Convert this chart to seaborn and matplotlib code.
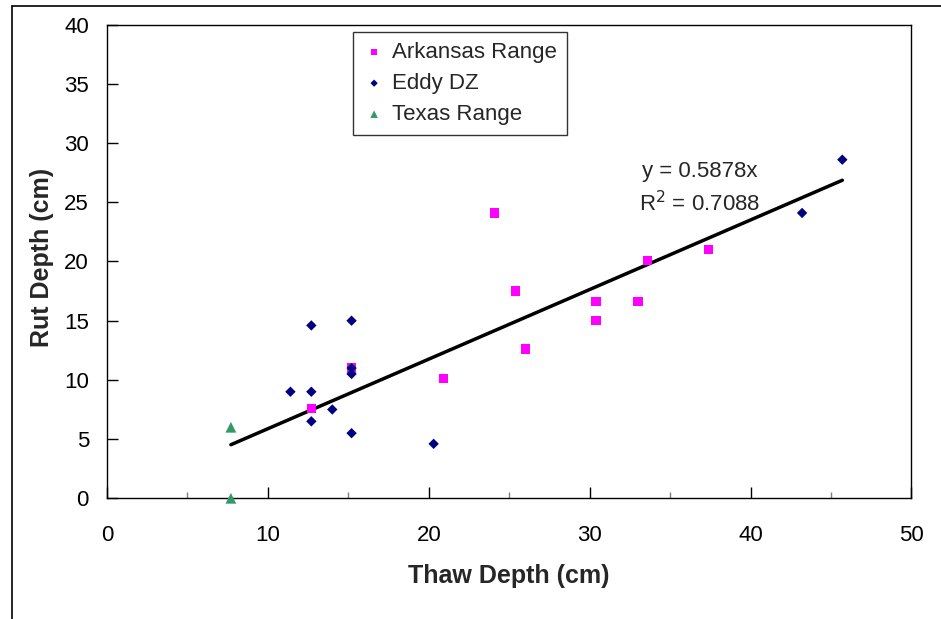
import matplotlib
matplotlib.use("Agg")
import matplotlib.pyplot as plt
from matplotlib.lines import Line2D
from matplotlib.ticker import MultipleLocator
import seaborn as sns
import pandas as pd
import numpy as np

# ---- data ----
ark_x = [12.7, 15.2, 20.9, 24.1, 25.4, 26.0, 30.4, 30.4, 33.0, 33.6, 37.4]
ark_y = [7.6, 11.0, 10.1, 24.1, 17.5, 12.6, 16.6, 15.0, 16.6, 20.1, 21.0]
eddy_x = [11.4, 12.7, 12.7, 12.7, 14.0, 15.2, 15.2, 15.2, 15.2, 20.3, 43.2, 45.7]
eddy_y = [9.0, 14.6, 9.0, 6.5, 7.5, 15.0, 11.0, 10.5, 5.5, 4.6, 24.1, 28.6]
tex_x = [7.7, 7.7]
tex_y = [6.0, 0.0]
slope = 0.5878
r2 = 0.7088

sns.set_theme(style="white")
plt.rcParams['font.family'] = ['Liberation Sans', 'DejaVu Sans']

W, H = 941, 619
fig = plt.figure(figsize=(W / 100, H / 100), dpi=100)
ax = fig.add_axes([107/W, 1-498.3/H, (911.5-107)/W, (498.3-24.7)/H])

df_a = pd.DataFrame({"x": ark_x, "y": ark_y})
df_e = pd.DataFrame({"x": eddy_x, "y": eddy_y})
df_t = pd.DataFrame({"x": tex_x, "y": tex_y})

sns.scatterplot(data=df_a, x="x", y="y", marker="s", color="#FF00FF", s=45,
                edgecolor="none", label="Arkansas Range", ax=ax, zorder=3)
sns.scatterplot(data=df_e, x="x", y="y", marker="D", color="#000080", s=28,
                edgecolor="none", label="Eddy DZ", ax=ax, zorder=3)
sns.scatterplot(data=df_t, x="x", y="y", marker="^", color="#339966", s=60,
                edgecolor="none", label="Texas Range", ax=ax, zorder=3, clip_on=False)

# trendline through origin
all_x = np.array(ark_x + eddy_x + tex_x)
lx = np.array([all_x.min(), all_x.max()])
sns.lineplot(x=lx, y=slope * lx, color="black", linewidth=2.5, ax=ax, zorder=2, legend=False)

fig.text(700/W, 1-172/H, "y = %.4fx" % slope, fontsize=16, ha="center", va="center")
fig.text(700/W, 1-204/H, "R$^2$ = %.4f" % r2, fontsize=16, ha="center", va="center")

ax.set_xlim(0, 50)
ax.set_ylim(0, 40)
ax.xaxis.set_major_locator(MultipleLocator(10))
ax.xaxis.set_minor_locator(MultipleLocator(5))
ax.yaxis.set_major_locator(MultipleLocator(5))
ax.tick_params(axis="both", which="major", direction="in", length=8, width=1,
               color="black", labelsize=16, labelcolor="black")
ax.tick_params(axis="x", which="major", pad=19)
ax.tick_params(axis="y", which="major", pad=13)
ax.tick_params(axis="x", which="minor", direction="in", length=4, width=1, color="#808080", bottom=True)
ax.tick_params(axis="both", left=True, bottom=True, top=False, right=False)

for sp in ax.spines.values():
    sp.set_visible(True)
    sp.set_color("black")
    sp.set_linewidth(1.0)

ax.set_xlabel("Thaw Depth (cm)", fontsize=18, fontweight="bold")
ax.set_ylabel("Rut Depth (cm)", fontsize=18, fontweight="bold")
ax.xaxis.set_label_coords((509-107)/804.5, (498.3-576)/473.6)
ax.xaxis.label.set_va("center")
ax.yaxis.set_label_coords((42-107)/804.5, (498.3-257.5)/473.6)
ax.yaxis.label.set_va("center")
ax.grid(False)

leg = ax.legend(loc="upper left", bbox_to_anchor=(353/W, 1-32/H),
                bbox_transform=fig.transFigure, borderaxespad=0,
                frameon=True, fancybox=False, edgecolor="black", fontsize=16,
                markerscale=0.7, handletextpad=0.3, labelspacing=0.45,
                borderpad=0.45, handlelength=1.0)
leg.get_frame().set_linewidth(1.0)

# outer figure frame (top and left edges visible)
fig.add_artist(Line2D([11.5/W, 11.5/W], [0, 1-5.5/H], color="black", lw=1.2))
fig.add_artist(Line2D([11.5/W, 1], [1-5.5/H, 1-5.5/H], color="black", lw=1.2))

fig.savefig("out.png", dpi=100, facecolor="white")
